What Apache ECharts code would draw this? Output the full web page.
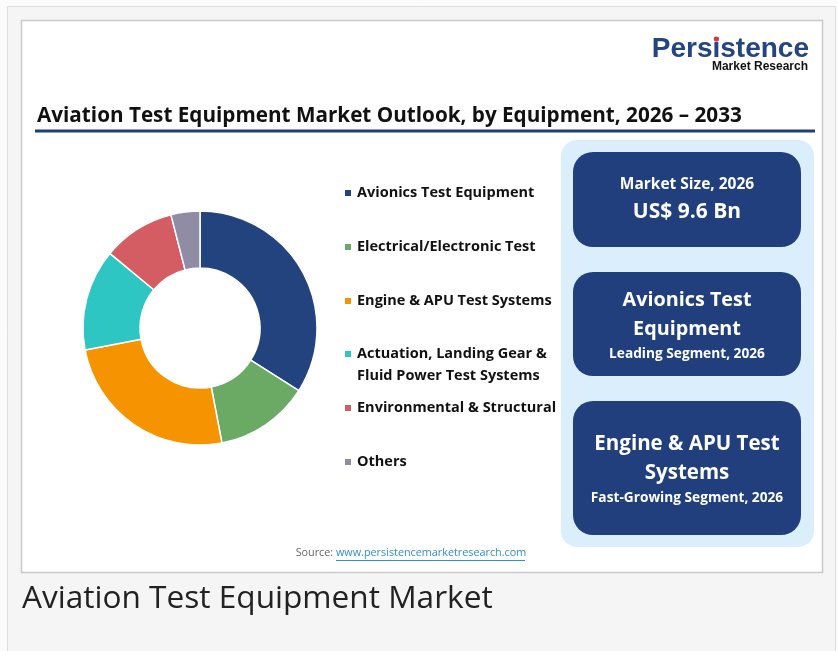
<!DOCTYPE html>
<html>
<head>
    <meta charset="utf-8">
    <title>Aviation Test Equipment Market</title>
    <script src="https://cdn.jsdelivr.net/npm/echarts@6/dist/echarts.min.js"></script>
    <style type="text/css">
        * { margin: 0; padding: 0; }
        body { background: #fbfbfb; }
    </style>
</head>
<body>
<div id="main" style="width: 838px; height: 651px;"></div>
<script type="text/javascript">
    // segment shares (%)
    var categories = ['Avionics Test Equipment', 'Electrical/Electronic Test', 'Engine & APU Test Systems',
        'Actuation, Landing Gear & Fluid Power Test Systems', 'Environmental & Structural', 'Others'];
    var shares = [34, 13, 25, 14, 10, 4];
    var colors = ['#23437f', '#6aaa64', '#f59300', '#2ec6c2', '#d45c63', '#8f8ca3'];
    // legend rows (centre y of first text line)
    var legendRows = [193, 247, 301, 354, 408, 462];

    var font = 'Open Sans';
    var navy = '#213f7c';

    var myChart = echarts.init(document.getElementById('main'));

    // where the dot of the first "i" in the logo sits
    var ctx = document.createElement('canvas').getContext('2d');
    ctx.font = 'bold 28px "Liberation Sans"';
    var logoRight = 809;
    var dotX = logoRight - ctx.measureText('Persistence').width + ctx.measureText('Pers').width
        + ctx.measureText('i').width / 2;

    function legendFor(i) {
        var twoLine = categories[i].indexOf('Fluid') > 0;
        return {
            orient: 'vertical',
            left: 343,
            // two-line item gets an empty first line so the marker sits by the first text line
            top: twoLine ? legendRows[i] - 33 : legendRows[i] - 11,
            padding: 0,
            itemWidth: 8,
            itemHeight: 8,
            icon: 'rect',
            selectedMode: false,
            data: [{ name: categories[i], itemStyle: { color: colors[i] } }],
            formatter: function (name) {
                if (name.indexOf('Gear & ') > 0) return ' \n' + name.replace('Gear & ', 'Gear &\n');
                return name;
            },
            textStyle: {
                fontFamily: font,
                fontWeight: 'bold',
                fontSize: 14.5,
                lineHeight: 22,
                color: '#111'
            }
        };
    }

    function boxText(text, y, size) {
        return {
            type: 'text',
            style: {
                text: text, x: 687, y: y, align: 'center', verticalAlign: 'middle',
                fontFamily: font, fontWeight: 'bold', fontSize: size, fill: '#fff'
            }
        };
    }

    var option = {
        animation: false,
        color: colors,
        legend: categories.map(function (c, i) { return legendFor(i); }),
        graphic: [
            // outer frame
            { type: 'rect', shape: { x: 7.5, y: 6.5, width: 828, height: 660 },
              style: { fill: '#f5f5f5', stroke: '#dedede', lineWidth: 1 }, z: -10 },
            // white card
            { type: 'rect', shape: { x: 21.5, y: 20.5, width: 801, height: 552 },
              style: { fill: '#fff', stroke: '#c9c9c9', lineWidth: 1.5 }, z: -9 },
            // logo
            { type: 'text', style: { text: 'Persistence', x: logoRight, y: 49, align: 'right', verticalAlign: 'middle',
                fontFamily: 'Liberation Sans', fontWeight: 'bold', fontSize: 28, fill: '#24457f' } },
            { type: 'circle', shape: { cx: dotX, cy: 39, r: 2.6 }, style: { fill: '#d9363e' }, z: 10 },
            { type: 'text', style: { text: 'Market Research', x: 808, y: 67, align: 'right', verticalAlign: 'middle',
                fontFamily: 'Liberation Sans', fontWeight: 'bold', fontSize: 12, fill: '#111' } },
            // title
            { type: 'text', style: { text: 'Aviation Test Equipment Market Outlook, by Equipment, 2026 \u2013 2033',
                x: 37, y: 116, verticalAlign: 'middle',
                fontFamily: font, fontWeight: 'bold', fontSize: 20.7, fill: '#111' } },
            { type: 'rect', shape: { x: 35, y: 129.5, width: 780, height: 3 }, style: { fill: navy } },
            // right panel
            { type: 'rect', shape: { x: 561, y: 140, width: 253, height: 407, r: 16 }, style: { fill: '#dbeefc' } },
            { type: 'rect', shape: { x: 573, y: 152, width: 228, height: 95, r: 20 }, style: { fill: navy } },
            { type: 'rect', shape: { x: 573, y: 272, width: 228, height: 104, r: 20 }, style: { fill: navy } },
            { type: 'rect', shape: { x: 573, y: 401, width: 228, height: 134, r: 20 }, style: { fill: navy } },
            boxText('Market Size, 2026', 185, 15.5),
            boxText('US$ 9.6 Bn', 212, 21),
            boxText('Avionics Test', 300, 19.8),
            boxText('Equipment', 329, 19.8),
            boxText('Leading Segment, 2026', 354, 13.7),
            boxText('Engine & APU Test', 444, 20.5),
            boxText('Systems', 473, 20.5),
            boxText('Fast-Growing Segment, 2026', 498, 13.7),
            // source
            { type: 'text', style: { text: 'Source: ', x: 336, y: 553, align: 'right', verticalAlign: 'middle',
                fontFamily: font, fontSize: 10.8, fill: '#666' } },
            { type: 'text', style: { text: 'www.persistencemarketresearch.com', x: 336, y: 553, verticalAlign: 'middle',
                fontFamily: font, fontSize: 10.8, fill: '#2f8fcf' } },
            { type: 'line', shape: { x1: 336, y1: 560.5, x2: 525, y2: 560.5 }, style: { stroke: '#2f8fcf', lineWidth: 1 } },
            // caption
            { type: 'text', style: { text: 'Aviation Test Equipment Market', x: 22, y: 599, verticalAlign: 'middle',
                fontFamily: font, fontSize: 31.6, fill: '#222' } }
        ],
        series: [
            {
                type: 'pie',
                center: [200, 328],
                radius: [60, 117],
                startAngle: 90,
                label: { show: false },
                labelLine: { show: false },
                itemStyle: { borderColor: '#fff', borderWidth: 1.5 },
                data: categories.map(function (c, i) { return { name: c, value: shares[i] }; })
            }
        ]
    };

    myChart.setOption(option);
</script>
</body>
</html>
